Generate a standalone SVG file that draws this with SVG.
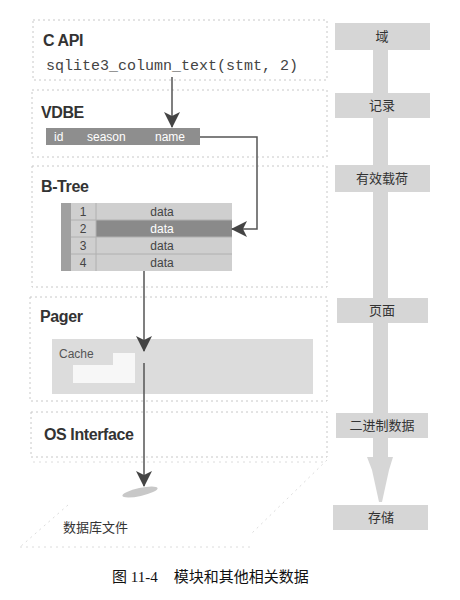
<svg xmlns="http://www.w3.org/2000/svg" width="460" height="600" viewBox="0 0 460 600">
<defs>
<style>
.layer{fill:none;stroke:#c8c8c8;stroke-width:1;stroke-dasharray:2 3}
.hdr{font-family:"Liberation Sans",Arial,sans-serif;font-weight:bold;font-size:16px;fill:#333;letter-spacing:-0.4px}
.mono{font-family:"Liberation Mono","DejaVu Sans Mono",monospace;font-size:15px;fill:#444}
.cell{font-family:"Liberation Sans",Arial,sans-serif;font-size:12px;fill:#444;text-anchor:middle}
.wt{font-family:"Liberation Sans",Arial,sans-serif;font-size:12px;fill:#fff}
.lab{font-family:"Liberation Sans","Noto Sans CJK SC",sans-serif;font-size:13px;fill:#333;text-anchor:middle}
.rbox{fill:#d6d6d6}
.conn{fill:none;stroke:#555;stroke-width:1.5}
.faint{fill:none;stroke:#dcdcdc;stroke-width:1;stroke-dasharray:2 4}
</style>
<marker id="ah" viewBox="0 0 10 10" refX="9" refY="5" markerWidth="10" markerHeight="10" markerUnits="userSpaceOnUse" orient="auto">
<path d="M0,0 L10,5 L0,10 L3,5 Z" fill="#444"/>
</marker>
<marker id="ahb" viewBox="0 0 16 16" refX="15" refY="8" markerWidth="16" markerHeight="16" markerUnits="userSpaceOnUse" orient="auto">
<path d="M0,0 L16,8 L0,16 L4,8 Z" fill="#444"/>
</marker>
</defs>

<g id="capi">
<rect class="layer" x="33" y="20" width="294" height="60"/>
<text class="hdr" x="43" y="46">C API</text>
<text class="mono" x="46" y="70">sqlite3_column_text(stmt, 2)</text>
</g>

<g id="vdbe">
<rect class="layer" x="32" y="90" width="295" height="67"/>
<text class="hdr" x="41" y="118">VDBE</text>
<rect x="46" y="128" width="154" height="17" fill="#8e8e8e"/>
<text class="wt" x="54" y="141">id</text>
<text class="wt" x="87" y="141">season</text>
<text class="wt" x="155" y="141">name</text>
</g>

<g id="btree">
<rect class="layer" x="32" y="166" width="295" height="121"/>
<text class="hdr" x="41" y="192">B-Tree</text>
<rect x="61" y="203" width="171" height="68" fill="#cfcfcf"/>
<rect x="61" y="203" width="10" height="68" fill="#a0a0a0"/>
<rect x="96" y="220" width="136" height="17" fill="#8a8a8a"/>
<g stroke="#b0b0b0" stroke-width="1">
<line x1="71" y1="220" x2="232" y2="220"/>
<line x1="71" y1="237" x2="232" y2="237"/>
<line x1="71" y1="254" x2="232" y2="254"/>
<line x1="96" y1="203" x2="96" y2="271"/>
</g>
<text class="cell" x="83" y="216">1</text>
<text class="cell" x="83" y="233">2</text>
<text class="cell" x="83" y="250">3</text>
<text class="cell" x="83" y="267">4</text>
<text class="cell" x="162" y="216">data</text>
<text class="cell" x="162" y="233" style="fill:#fff">data</text>
<text class="cell" x="162" y="250">data</text>
<text class="cell" x="162" y="267">data</text>
</g>

<g id="pager">
<rect class="layer" x="30" y="297" width="297" height="104"/>
<text class="hdr" x="40" y="322">Pager</text>
<rect x="52" y="339" width="261" height="55" fill="#dcdcdc"/>
<text x="59" y="358" font-family="Liberation Sans,Arial,sans-serif" font-size="12" fill="#555">Cache</text>
<path d="M73,365 L113,365 L113,353 L135,353 L135,383 L73,383 Z" fill="#f7f7f7"/>
</g>

<g id="os">
<rect class="layer" x="31" y="412" width="296" height="45"/>
<text class="hdr" x="44" y="440">OS Interface</text>
</g>

<g id="dbfile">
<path class="faint" d="M327,460 L250,535"/>
<path class="faint" d="M68,505 L20,547"/>
<path class="faint" d="M20,547 L250,547"/>
<path class="faint" d="M33,462 L327,462"/>
<ellipse cx="140" cy="492" rx="18" ry="4" fill="#c8c8c8" transform="rotate(-12 140 492)"/>
<text x="63" y="532" font-family="Noto Sans CJK SC,sans-serif" font-size="13" fill="#333">数据库文件</text>
</g>

<g id="levels">
<rect x="373" y="40" width="15" height="420" fill="#d6d6d6"/>
<path d="M367,457 L393,457 L389,470 L382,502 L379,502 L372,470 Z" fill="#d6d6d6"/>
<g id="l-field"><rect class="rbox" x="335" y="23" width="95" height="27"/><text class="lab" x="382" y="41">域</text></g>
<g id="l-record"><rect class="rbox" x="335" y="93" width="95" height="25"/><text class="lab" x="382" y="110">记录</text></g>
<g id="l-payload"><rect class="rbox" x="335" y="165" width="95" height="27"/><text class="lab" x="382" y="183">有效载荷</text></g>
<g id="l-page"><rect class="rbox" x="337" y="298" width="91" height="25"/><text class="lab" x="382" y="315">页面</text></g>
<g id="l-binary"><rect class="rbox" x="336" y="413" width="92" height="25"/><text class="lab" x="382" y="430">二进制数据</text></g>
<g id="l-storage"><rect class="rbox" x="333" y="505" width="95" height="25"/><text class="lab" x="381" y="522">存储</text></g>
</g>

<g id="connectors">
<line class="conn" x1="172" y1="77" x2="172" y2="127" marker-end="url(#ahb)"/>
<path class="conn" d="M200,137 L257,137 L257,229 L232,229" marker-end="url(#ahb)"/>
<line class="conn" x1="144" y1="271" x2="144" y2="351" marker-end="url(#ahb)"/>
<line class="conn" x1="144" y1="363" x2="144" y2="486" marker-end="url(#ahb)"/>
</g>

<text x="112" y="582" font-family="Liberation Serif,Noto Sans CJK SC,serif" font-size="15" fill="#111">图 11-4<tspan dx="16">模块和其他相关数据</tspan></text>
</svg>
